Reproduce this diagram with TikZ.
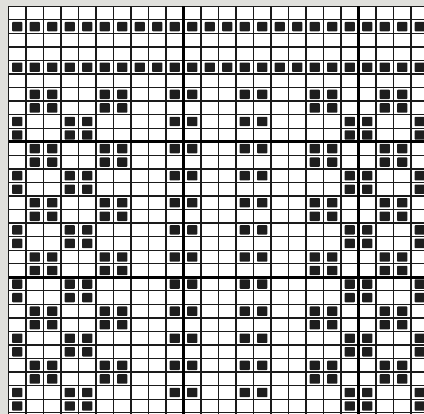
\documentclass[tikz,border=0pt]{standalone}
\definecolor{margin}{HTML}{E0E0DC}
\definecolor{ink}{HTML}{1E1E1E}
\definecolor{gridc}{HTML}{1A1A1A}
\tikzset{
  thinline/.style={draw=gridc, line width=1.3pt},
  midline/.style={draw=gridc, line width=2.3pt},
  heavyline/.style={draw=black, line width=3.4pt},
  hline/.style={draw=black, line width=2.6pt},
  cellsq/.style={fill=ink, rounded corners=0.8pt}
}
\newcommand\xo{8.5}
\newcommand\yo{6.3}
\newcommand\cw{17.5}
\newcommand\rh{13.55}
\newcommand\sqcell[2]{\fill[cellsq] ({\xo+(#2+0.5)*\cw-5.2},{\yo+(#1+0.5)*\rh-4.7}) rectangle ++(10.4,9.4);}
\begin{document}
\begin{tikzpicture}[x=1pt,y=-1pt]
\fill[margin] (0,0) rectangle (424,414);
\useasboundingbox (0,0) rectangle (424,414);
\begin{scope}
\clip (0,0) rectangle (424,414);
\fill[white] (\xo,\yo) rectangle (424,414);
% thin grid lines
\foreach \c in {0,...,24} \draw[thinline] ({\xo+\c*\cw},\yo) -- ({\xo+\c*\cw},414);
\foreach \r in {0,...,31} \draw[thinline] (\xo,{\yo+\r*\rh}) -- (424,{\yo+\r*\rh});
% medium vertical lines every 5 columns
\foreach \c in {5,15} \draw[midline] ({\xo+\c*\cw},\yo) -- ({\xo+\c*\cw},414);
% heavy vertical lines every 10 columns
\foreach \c in {10,20} \draw[heavyline] ({\xo+\c*\cw},\yo) -- ({\xo+\c*\cw},414);
% heavy horizontal lines every 10 rows
\foreach \r in {10,20} \draw[hline] (\xo,{\yo+\r*\rh}) -- (424,{\yo+\r*\rh});
% full rows
\foreach \r in {1,4} {\foreach \c in {0,...,23} {\sqcell{\r}{\c}}}
% pattern A row pairs
\foreach \r in {6,10,14,18,22,26} {
  \foreach \c in {1,2,5,6,17,18,21,22} {\sqcell{\r}{\c}\sqcell{\r+1}{\c}}
  \foreach \c in {9,10,13,14} {\sqcell{\r}{\c}}
}
% pattern B row pairs
\foreach \r in {8,12,16,20,24,28} {
  \foreach \c in {0,3,4,19,20,23} {\sqcell{\r}{\c}\sqcell{\r+1}{\c}}
  \foreach \c in {9,10,13,14} {\sqcell{\r}{\c}}
}
\end{scope}
\end{tikzpicture}
\end{document}
